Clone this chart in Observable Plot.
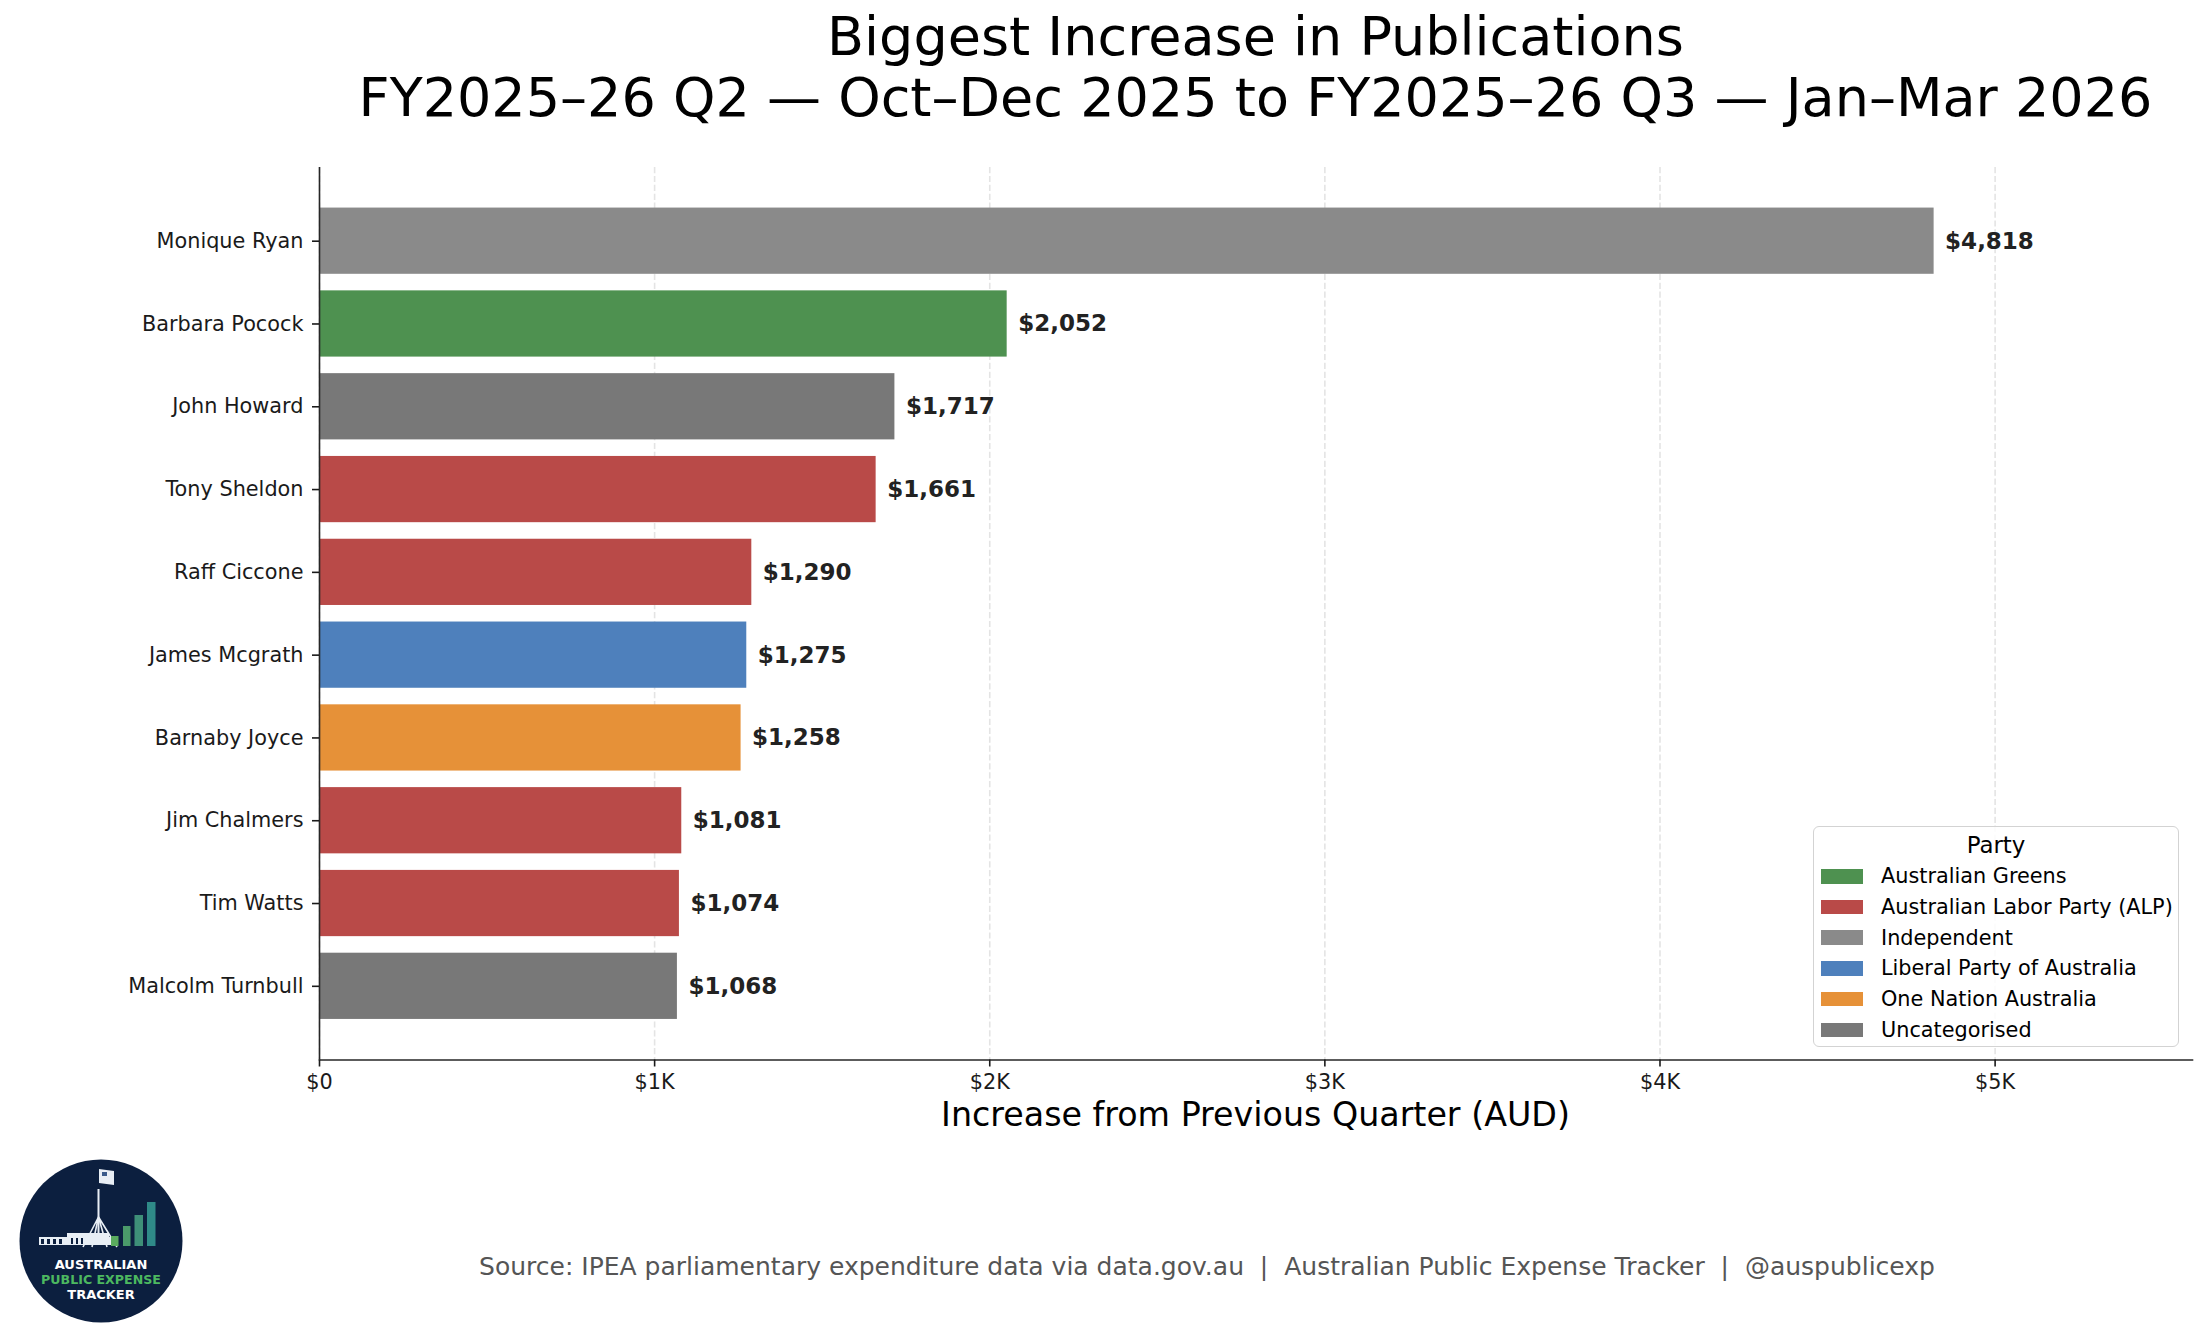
<!DOCTYPE html>
<html>
<head>
<meta charset="utf-8">
<script src="https://cdn.jsdelivr.net/npm/d3@7"></script>
<script src="https://cdn.jsdelivr.net/npm/@observablehq/plot@0.6"></script>
<style>
  html, body { margin: 0; padding: 0; background: #fff; }
  #page { position: relative; width: 2205px; height: 1337px; overflow: hidden; font-family: "DejaVu Sans", sans-serif; color: #000; }
  #title { position: absolute; left: 319px; width: 1873px; top: 6px; text-align: center; font-size: 54px; line-height: 61px; white-space: nowrap; }
  #chart { position: absolute; left: 0; top: 140px; }
  #xlabel { position: absolute; left: 319px; width: 1873px; top: 1095px; text-align: center; font-size: 33.3px; line-height: 40px; white-space: nowrap; }
  #legend { position: absolute; left: 1813px; top: 826px; width: 364px; height: 219px; border: 1.5px solid #d3d3d3; border-radius: 6px; background: rgba(255,255,255,0.85); box-sizing: content-box; }
  #legend .ltitle { text-align: center; font-size: 22.9px; line-height: 30px; margin-top: 3px; margin-bottom: 1px; }
  #legend .row { height: 30.7px; display: flex; align-items: center; font-size: 20.8px; }
  #legend .sw { width: 42px; height: 14.5px; margin-left: 7px; margin-right: 18px; flex: none; }
  #source { position: absolute; left: 1207px; top: 1252px; transform: translateX(-50%); font-size: 25px; color: #555; white-space: nowrap; line-height: 30px; }
  #logo { position: absolute; left: 19px; top: 1159px; }
</style>
</head>
<body>
<div id="page">
  <div id="title">Biggest Increase in Publications<br>FY2025–26 Q2 — Oct–Dec 2025 to FY2025–26 Q3 — Jan–Mar 2026</div>
  <div id="chart"></div>
  <div id="xlabel">Increase from Previous Quarter (AUD)</div>
  <div id="legend"></div>
  <div id="source">Source: IPEA parliamentary expenditure data via data.gov.au&nbsp; |&nbsp; Australian Public Expense Tracker&nbsp; |&nbsp; @auspublicexp</div>
  <svg id="logo" width="166" height="166" viewBox="0 0 166 166">
    <circle cx="82" cy="82" r="81.5" fill="#0c1f3f"/>
    <rect x="78.5" y="30" width="2" height="52" fill="#e8eef5"/>
    <path d="M80 10 L95 12 L95 26 L80 24 Z" fill="#e8eef5"/>
    <rect x="83" y="13" width="5" height="4" fill="#3a5a8a"/>
    <path d="M79.5 58 L64 88 M79.5 58 L73 88 M79.5 58 L88 88 M79.5 58 L98 88" stroke="#e8eef5" stroke-width="1.6" fill="none"/>
    <rect x="20" y="78" width="72" height="8" fill="#e8eef5"/>
    <rect x="48" y="74" width="42" height="4" fill="#e8eef5"/>
    <path d="M22 80 h3 v5 h-3z M28 80 h3 v5 h-3z M34 80 h3 v5 h-3z M40 80 h3 v5 h-3z M52 79 h2 v6 h-2z M57 79 h2 v6 h-2z M62 79 h2 v6 h-2z" fill="#0c1f3f"/>
    <rect x="92" y="77" width="7.5" height="10" fill="#5aab5e"/>
    <rect x="104" y="67" width="7.5" height="20" fill="#4b9a6a"/>
    <rect x="115.5" y="56" width="8.5" height="31" fill="#3e8f78"/>
    <rect x="128" y="43" width="8.5" height="44" fill="#2f8a88"/>
    <text x="82" y="110" text-anchor="middle" font-family="DejaVu Sans" font-weight="bold" font-size="13" fill="#ffffff">AUSTRALIAN</text>
    <text x="82" y="125" text-anchor="middle" font-family="DejaVu Sans" font-weight="bold" font-size="12.6" fill="#4cb860">PUBLIC EXPENSE</text>
    <text x="82" y="140" text-anchor="middle" font-family="DejaVu Sans" font-weight="bold" font-size="13" fill="#ffffff">TRACKER</text>
  </svg>
</div>
<script>
// ---- data ----
const names = ["Monique Ryan", "Barbara Pocock", "John Howard", "Tony Sheldon", "Raff Ciccone", "James Mcgrath", "Barnaby Joyce", "Jim Chalmers", "Tim Watts", "Malcolm Turnbull"];
const values = [4818, 2052, 1717, 1661, 1290, 1275, 1258, 1081, 1074, 1068];
const parties = ["Independent", "Australian Greens", "Uncategorised", "Australian Labor Party (ALP)", "Australian Labor Party (ALP)", "Liberal Party of Australia", "One Nation Australia", "Australian Labor Party (ALP)", "Australian Labor Party (ALP)", "Uncategorised"];
const partyDomain = ["Australian Greens", "Australian Labor Party (ALP)", "Independent", "Liberal Party of Australia", "One Nation Australia", "Uncategorised"];
const partyColors = ["#4e9150", "#b94a48", "#8a8a8a", "#4e80bc", "#e69138", "#787878"];
const xTicks = [0, 1000, 2000, 3000, 4000, 5000];
const xTickLabels = ["$0", "$1K", "$2K", "$3K", "$4K", "$5K"];
const xMax = 5589;

const data = names.map((n, i) => ({name: n, value: values[i], party: parties[i]}));
const fmt = d3.format(",");

const chart = Plot.plot({
  width: 2205,
  height: 1010,
  marginLeft: 319,
  marginRight: 13,
  marginTop: 27,
  marginBottom: 90.5,
  style: {fontFamily: "DejaVu Sans", color: "#1a1a1a", background: "transparent", overflow: "visible"},
  x: {domain: [0, xMax]},
  y: {domain: names, paddingInner: 0.2, paddingOuter: 0.49, round: false},
  color: {domain: partyDomain, range: partyColors},
  marks: [
    Plot.ruleX(xTicks, {stroke: "#e4e4e4", strokeWidth: 1.6, strokeDasharray: "6.2,2.7"}),
    Plot.barX(data, {x: "value", y: "name", fill: "party"}),
    Plot.text(data, {x: "value", y: "name", text: d => "$" + fmt(d.value), textAnchor: "start", dx: 11, fontWeight: "bold", fontSize: 23, fill: "#222"}),
    Plot.ruleX([0], {stroke: "#262626", strokeWidth: 1.6}),
    Plot.frame({anchor: "bottom", stroke: "#262626", strokeWidth: 1.6}),
    Plot.axisX({ticks: xTicks, tickFormat: d => xTickLabels[xTicks.indexOf(d)], tickSize: 7, tickPadding: 7, fontSize: 20.8, strokeWidth: 1.6, label: null}),
    Plot.axisY({tickSize: 7, tickPadding: 9, fontSize: 20.8, strokeWidth: 1.6, label: null})
  ]
});
document.getElementById("chart").appendChild(chart);

// legend
const leg = document.getElementById("legend");
const lt = document.createElement("div");
lt.className = "ltitle";
lt.textContent = "Party";
leg.appendChild(lt);
partyDomain.forEach((p, i) => {
  const row = document.createElement("div");
  row.className = "row";
  const sw = document.createElement("div");
  sw.className = "sw";
  sw.style.background = partyColors[i];
  const tx = document.createElement("span");
  tx.textContent = p;
  row.appendChild(sw);
  row.appendChild(tx);
  leg.appendChild(row);
});
</script>
</body>
</html>
